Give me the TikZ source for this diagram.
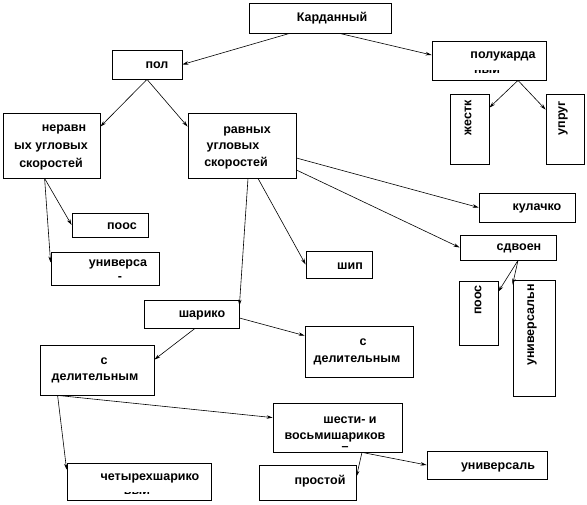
\documentclass[tikz,border=0pt]{standalone}
\usepackage{fontspec}
\setmainfont{Liberation Sans}
\usetikzlibrary{arrows.meta,positioning}

\tikzset{
  box/.style={draw, rectangle, line width=0.8pt, inner sep=0pt},
  txt/.style={inner sep=0pt, align=center, font=\bfseries\fontsize{12.5}{17.5}\selectfont},
  vtxt/.style={txt, rotate=90},
}

\begin{document}
\begin{tikzpicture}[x=1pt, y=-1pt, ->, >={Stealth[length=6pt, width=3.5pt]}, line width=0.6pt]
\path[use as bounding box] (0,0) rectangle (587,505);
% boxes
\node[box, minimum width=142, minimum height=30] (kard) at (320,18) {};
\node[box, minimum width=70, minimum height=29] (pol) at (147,64.5) {};
\node[box, minimum width=114, minimum height=39] (polk) at (489,60.5) {};
\node[box, minimum width=39, minimum height=70] (zhest) at (469.5,129) {};
\node[box, minimum width=38, minimum height=70] (uprug) at (565,129) {};
\node[box, minimum width=97, minimum height=65] (nerav) at (51.5,145.5) {};
\node[box, minimum width=108, minimum height=65] (ravn) at (242,145.5) {};
\node[box, minimum width=76, minimum height=24] (poosA) at (110,225) {};
\node[box, minimum width=108, minimum height=33] (univA) at (105,268.5) {};
\node[box, minimum width=96, minimum height=29] (kulach) at (527,207.5) {};
\node[box, minimum width=96, minimum height=25] (sdvoen) at (508,247.5) {};
\node[box, minimum width=66, minimum height=27] (ship) at (339,264.5) {};
\node[box, minimum width=39, minimum height=64] (poosB) at (478.5,313) {};
\node[box, minimum width=42, minimum height=116] (univB) at (534,338) {};
\node[box, minimum width=95, minimum height=28] (shar) at (191.5,314) {};
\node[box, minimum width=108, minimum height=51] (delR) at (359,351.5) {};
\node[box, minimum width=114, minimum height=50] (delL) at (97,370) {};
\node[box, minimum width=129, minimum height=49] (shest) at (337.5,427.5) {};
\node[box, minimum width=120, minimum height=28] (univC) at (487,465) {};
\node[box, minimum width=97, minimum height=35] (prost) at (307.5,482.5) {};
\node[box, minimum width=144, minimum height=37] (chet) at (139,481.5) {};
% texts
\node[txt] (kardT) at (332,18) {Карданный};
\node[txt] (polT) at (157,65) {пол};
\node[txt] (polkT) at (503,56) {полукарда};
\begin{scope}
\clip (465,71) rectangle (515,79);
\node[txt] (polkU) at (487,69) {ный};
\end{scope}
\node[vtxt] (zhestT) at (468,118) {жестк};
\node[vtxt] (uprugT) at (563,118) {упруг};
\node[txt] (neravT) at (64,129) {неравн};
\node[txt] (neravU) at (51,147) {ых угловых};
\node[txt] (neravV) at (51,164) {скоростей};
\node[txt] (ravnT) at (247,131) {равных};
\node[txt] (ravnU) at (233,147) {угловых};
\node[txt] (ravnV) at (236,163) {скоростей};
\node[txt] (poosAT) at (122,226) {поос};
\node[txt] (univAT) at (118,264) {универса};
\node[txt] (univAU) at (120,279) {-};
\node[txt] (kulachT) at (537,208) {кулачко};
\node[txt] (sdvoenT) at (519,248) {сдвоен};
\node[txt] (shipT) at (350,266) {шип};
\node[vtxt] (poosBT) at (478,300) {поос};
\node[vtxt] (univBT) at (532,325) {универсальн};
\node[txt] (sharT) at (202,315) {шарико};
\node[txt] (delRT) at (363,342) {с};
\node[txt] (delRU) at (357,360) {делительным};
\node[txt] (delLT) at (104,361) {с};
\node[txt] (delLU) at (95,378) {делительным};
\node[txt] (shestT) at (350,420) {шести- и};
\node[txt] (shestU) at (335,437) {восьмишариков};
\node[txt] (shestV) at (345,449) {–};
\node[txt] (univCT) at (498,467) {универсаль};
\node[txt] (prostT) at (320,481) {простой};
\node[txt] (chetT) at (150,478) {четырехшарико};
\begin{scope}
\clip (115,492) rectangle (160,499);
\node[txt] (chetU) at (137,490) {вый};
\end{scope}
% connectors
\path ([xshift=41pt]kard.south west) edge (pol.east);
\path ([xshift=91pt]kard.south west) edge ([yshift=5.5pt]polk.west);
\path (pol.south) edge ([yshift=-14pt]nerav.north east);
\path (pol.south) edge ([yshift=-14pt]ravn.north west);
\path ([xshift=29pt]polk.south) edge ([yshift=-14pt]zhest.north east);
\path ([xshift=29pt]polk.south) edge ([yshift=-16pt]uprug.north west);
\path ([xshift=42pt]nerav.south west) edge (poosA.west);
\path ([xshift=42pt]nerav.south west) edge ([yshift=6pt]univA.west);
\path ([yshift=-12.5pt]ravn.east) edge (kulach.west);
\path ([yshift=-24.5pt]ravn.east) edge (sdvoen.west);
\path ([xshift=16pt]ravn.south) edge (ship.west);
\path ([xshift=6pt]ravn.south) edge ([yshift=-6pt]shar.north east);
\path ([xshift=10pt]sdvoen.south) edge ([yshift=-11pt]poosB.north east);
\path ([xshift=10pt]sdvoen.south) edge ([yshift=-5pt]univB.north west);
\path ([yshift=-4pt]shar.east) edge ([yshift=-10pt]delR.north west);
\path ([xshift=3.5pt]shar.south) edge ([yshift=-15pt]delL.north east);
\path ([xshift=18pt]delL.south west) edge ([yshift=-15pt]shest.north west);
\path ([xshift=18pt]delL.south west) edge ([yshift=-7pt]chet.north west);
\path ([xshift=24.5pt]shest.south) edge ([yshift=-12pt]prost.north east);
\path ([xshift=24.5pt]shest.south) edge (univC.west);
\end{tikzpicture}
\end{document}
